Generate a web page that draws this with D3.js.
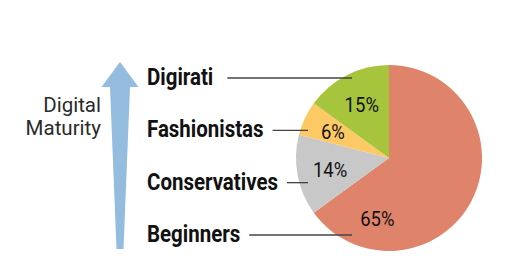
<!DOCTYPE html>
<html>
<head>
<meta charset="utf-8">
<script src="https://cdn.jsdelivr.net/npm/d3@7"></script>
<style>
  body { margin: 0; background: #fff; }
  svg { display: block; }
  .seg { font-family: Roboto, sans-serif; font-weight: bold; font-size: 23px; fill: #111; }
  .pct { font-family: Roboto, sans-serif; font-size: 21px; fill: #111; }
  .axis-title { font-family: Roboto, sans-serif; font-size: 20.5px; fill: #2a2a2a; }
</style>
</head>
<body>
<div id="vis"></div>
<script>
// segments, from most to least digitally mature
const segments = ['Digirati', 'Fashionistas', 'Conservatives', 'Beginners'];
const shares = [15, 6, 14, 65];
const colors = ['#a6c43c', '#fdc964', '#c8c8c8', '#df836b'];
const titleLines = ['Digital', 'Maturity'];

function maturityChart() {
  const width = 520;
  const height = 272;
  const center = { x: 389, y: 158 };
  const radius = 93;
  const squeeze = 0.89; // narrow the type, the original uses a condensed face

  const svg = d3.select('#vis')
    .append('svg')
    .attr('width', width)
    .attr('height', height);

  // pie drawn clockwise from 12 o'clock, starting with Beginners
  const order = segments.map((s, i) => i).reverse();
  const data = order.map(i => ({ name: segments[i], value: shares[i], color: colors[i] }));

  const pie = d3.pie()
    .sort(null)
    .value(d => d.value);

  const arcs = pie(data);
  const arc = d3.arc().innerRadius(0).outerRadius(radius);

  const g = svg.append('g')
    .attr('transform', `translate(${center.x},${center.y})`);

  g.selectAll('path')
    .data(arcs)
    .enter().append('path')
    .attr('d', arc)
    .attr('fill', d => d.data.color);

  // label radius per slice; the big slice gets its label pushed toward the bottom
  function labelPos(d) {
    let a = (d.startAngle + d.endAngle) / 2;
    let r = 60;
    if (d.data.value > 50) { a = Math.PI * 1.06; r = 62; }
    if (d.data.value < 10) r = 62;
    return [Math.sin(a) * r, -Math.cos(a) * r];
  }

  g.selectAll('text.pct')
    .data(arcs)
    .enter().append('text')
    .attr('class', 'pct')
    .attr('text-anchor', 'middle')
    .attr('dy', '0.35em')
    .attr('transform', d => {
      const p = labelPos(d);
      return `translate(${p[0]},${p[1]}) scale(0.88,1)`;
    })
    .text(d => d.data.value + '%');

  // segment names on a point scale, top to bottom
  const yScale = d3.scalePoint()
    .domain(segments)
    .range([85, 242]);

  const labelX = 147;

  const labels = svg.selectAll('text.seg')
    .data(segments)
    .enter().append('text')
    .attr('class', 'seg')
    .attr('transform', d => `translate(${labelX},${yScale(d)}) scale(${squeeze},1)`)
    .text(d => d);

  // leader lines from label to its slice
  labels.each(function (d) {
    const w = this.getComputedTextLength() * squeeze;
    const y = yScale(d) - 7;
    // end inside slice for outer labels, at the edge for the narrow ones
    let x2;
    if (d === 'Digirati' || d === 'Beginners') {
      x2 = center.x - 37;
    } else {
      x2 = center.x - 81;
    }
    svg.append('line')
      .attr('x1', labelX + w + (d === 'Digirati' ? 14 : 9))
      .attr('x2', x2)
      .attr('y1', y)
      .attr('y2', y)
      .attr('stroke', '#444')
      .attr('stroke-width', 1.3);
  });

  // maturity arrow, tapering toward the bottom
  const ax = 120;
  const arrow = d3.path();
  arrow.moveTo(ax - 3.5, 249);
  arrow.lineTo(ax - 10, 87);
  arrow.lineTo(ax - 18.5, 87);
  arrow.lineTo(ax, 62);
  arrow.lineTo(ax + 18.5, 87);
  arrow.lineTo(ax + 10, 87);
  arrow.lineTo(ax + 3.5, 249);
  arrow.closePath();

  svg.append('path')
    .attr('d', arrow.toString())
    .attr('fill', '#93bcdf');

  svg.selectAll('text.axis-title')
    .data(titleLines)
    .enter().append('text')
    .attr('class', 'axis-title')
    .attr('text-anchor', 'end')
    .attr('x', 101)
    .attr('y', (d, i) => 112 + i * 23)
    .text(d => d);
}

maturityChart();
</script>
</body>
</html>
